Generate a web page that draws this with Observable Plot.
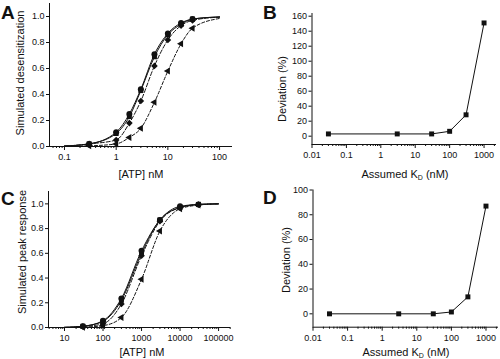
<!DOCTYPE html>
<html>
<head>
<meta charset="utf-8">
<script src="https://cdn.jsdelivr.net/npm/d3@7"></script>
<script src="https://cdn.jsdelivr.net/npm/@observablehq/plot@0.6"></script>
<style>
  html, body { margin: 0; padding: 0; background: #fff; }
  #root { position: relative; width: 500px; height: 359px; overflow: hidden; background: #fff;
          font-family: "Liberation Sans", Arial, Helvetica, sans-serif; color: #111; }
  .panel { position: absolute; }
  .lbl { position: absolute; white-space: nowrap; transform: translate(-50%, -50%); font-size: 11px; line-height: 1; }
  .rot { transform: translate(-50%, -50%) rotate(-90deg); }
  .letter { position: absolute; font-weight: bold; font-size: 19px; line-height: 1; }
  sub { font-size: 7px; vertical-align: -2px; }
</style>
</head>
<body>
<div id="root"></div>
<script>
// ---------- Panel A: simulated desensitization vs [ATP] (nM) ----------
const concA = [0.3, 1, 1.8, 3, 5.5, 10, 18, 30];
const aCircle   = [0.02, 0.11, 0.25, 0.44, 0.71, 0.87, 0.95, 0.98];
const aSquare   = [0.02, 0.10, 0.23, 0.43, 0.69, 0.86, 0.94, 0.98];
const aDiamond  = [0.02, 0.05, 0.18, 0.35, 0.62, 0.82, 0.93, 0.97];
const aTriangle = [0.005, 0.02, 0.07, 0.14, 0.34, 0.58, 0.79, 0.91];
// fitted-curve end values (at 0.1 nM and 100 nM)
const curveXA = [0.1, 100];
const aCircleEnds   = [0.004, 0.997];
const aSquareEnds   = [0.004, 0.996];
const aDiamondEnds  = [0.002, 0.995];
const aTriangleEnds = [0.001, 0.985];
const xTicksA = [0.1, 1, 10, 100];
const yTicksA = [0, 0.2, 0.4, 0.6, 0.8, 1.0];

// ---------- Panel C: simulated peak response vs [ATP] (nM) ----------
const concC = [30, 100, 300, 1000, 3000, 10000, 30000];
const cCircle   = [0.01, 0.055, 0.235, 0.62, 0.87, 0.98, 0.995];
const cSquare   = [0.01, 0.05, 0.22, 0.60, 0.87, 0.97, 0.995];
const cDiamond  = [0.008, 0.03, 0.19, 0.58, 0.86, 0.97, 0.995];
const cTriangle = [0.003, 0.015, 0.08, 0.39, 0.78, 0.96, 0.99];
const curveXC = [10, 100000];
const cCircleEnds   = [0.001, 1.0];
const cSquareEnds   = [0.001, 1.0];
const cDiamondEnds  = [0.001, 1.0];
const cTriangleEnds = [0.0005, 1.0];
const xTicksC = [10, 100, 1000, 10000, 100000];
const yTicksC = [0, 0.2, 0.4, 0.6, 0.8, 1.0];

// ---------- Panel B / D: deviation (%) vs assumed KD (nM) ----------
const kd = [0.03, 3, 30, 100, 300, 1000];
const devB = [3, 3, 3, 6.5, 28.5, 151];
const devD = [0, 0, 0, 1.5, 13.7, 87];
const xTicksKD = [0.01, 0.1, 1, 10, 100, 1000];
const yTicksB = [0, 20, 40, 60, 80, 100, 120, 140, 160];
const yTicksD = [0, 20, 40, 60, 80, 100];

// ---------- helpers ----------
const FONT = '"Liberation Sans", Arial, Helvetica, sans-serif';
function minorTicks(lo, hi) {
  const t = [];
  for (let e = Math.floor(Math.log10(lo)); e <= Math.ceil(Math.log10(hi)); e++)
    for (let k = 2; k <= 9; k++) { const v = k * Math.pow(10, e); if (v >= lo && v <= hi) t.push(v); }
  return t;
}
function rows(xs, ys) { return xs.map((x, i) => ({x, y: ys[i]})); }
function withEnds(xs, ys, ex, ey) {
  return [{x: ex[0], y: ey[0]}, ...rows(xs, ys), {x: ex[1], y: ey[1]}];
}
function axes(xDomain, yDomain, xTicks, yTicks, yFmt) {
  return [
    Plot.ruleX([xDomain[0]], {stroke: "#111", strokeWidth: 1}),
    Plot.ruleY([yDomain[0]], {stroke: "#111", strokeWidth: 1}),
    Plot.axisY({ticks: yTicks, tickSize: 3, tickPadding: 2, tickFormat: yFmt, label: null}),
    Plot.axisX({ticks: minorTicks(xDomain[0], xDomain[1]), tickSize: 2, tickFormat: () => "", label: null}),
    Plot.axisX({ticks: xTicks, tickSize: 4, tickPadding: 3, tickFormat: d => String(d), label: null})
  ];
}
function place(svg, left, top) {
  const wrap = document.createElement("div");
  wrap.className = "panel";
  wrap.style.left = left + "px"; wrap.style.top = top + "px";
  wrap.appendChild(svg);
  document.getElementById("root").appendChild(wrap);
}
function label(html, x, y, rotated) {
  const d = document.createElement("div");
  d.className = "lbl" + (rotated ? " rot" : "");
  d.style.left = x + "px"; d.style.top = y + "px";
  d.innerHTML = html;
  document.getElementById("root").appendChild(d);
}
function letter(t, x, y) {
  const d = document.createElement("div");
  d.className = "letter";
  d.style.left = x + "px"; d.style.top = y + "px";
  d.textContent = t;
  document.getElementById("root").appendChild(d);
}
const style = {fontFamily: FONT, fontSize: "9px", color: "#111", background: "transparent", overflow: "visible"};

function curvePanel(opts) {
  const {xDomain, yDomain, xTicks, yTicks, series, margins} = opts;
  const marks = [];
  for (const s of series) {
    marks.push(Plot.line(s.curve, {x: "x", y: "y", curve: "monotone-x", stroke: "#111",
      strokeWidth: 1, strokeDasharray: s.dash || null}));
  }
  for (const s of series) {
    marks.push(Plot.dot(s.points, {x: "x", y: "y", symbol: () => s.symbol, r: s.r, fill: "#111",
      stroke: "none", rotate: s.rotate || 0}));
  }
  return Plot.plot({
    width: 250, height: opts.height, ...margins,
    x: {type: "log", domain: xDomain},
    y: {domain: yDomain},
    style,
    marks: [...axes(xDomain, yDomain, xTicks, yTicks, d3.format(".1f")), ...marks]
  });
}

// Panel A
const xDomA = [0.0513, 178], yDomA = [0, 1.1];
place(curvePanel({
  height: 180, xDomain: xDomA, yDomain: yDomA, xTicks: xTicksA, yTicks: yTicksA,
  margins: {marginLeft: 49, marginRight: 18, marginTop: 3, marginBottom: 34},
  series: [
    {curve: withEnds(concA, aTriangle, curveXA, aTriangleEnds), points: rows(concA, aTriangle), symbol: "triangle", r: 2.6, rotate: -90, dash: "3,2"},
    {curve: withEnds(concA, aDiamond, curveXA, aDiamondEnds), points: rows(concA, aDiamond), symbol: "diamond2", r: 3, dash: "4,2"},
    {curve: withEnds(concA, aSquare, curveXA, aSquareEnds), points: rows(concA, aSquare), symbol: "square", r: 2.8},
    {curve: withEnds(concA, aCircle, curveXA, aCircleEnds), points: rows(concA, aCircle), symbol: "circle", r: 3}
  ]
}), 0, 0);

// Panel C
const xDomC = [3.84, 204000], yDomC = [0, 1.1];
place(curvePanel({
  height: 179, xDomain: xDomC, yDomain: yDomC, xTicks: xTicksC, yTicks: yTicksC,
  margins: {marginLeft: 48, marginRight: 20, marginTop: 11, marginBottom: 32},
  series: [
    {curve: withEnds(concC, cTriangle, curveXC, cTriangleEnds), points: rows(concC, cTriangle), symbol: "triangle", r: 2.6, rotate: -90, dash: "3,2"},
    {curve: withEnds(concC, cDiamond, curveXC, cDiamondEnds), points: rows(concC, cDiamond), symbol: "diamond2", r: 3, dash: "4,2"},
    {curve: withEnds(concC, cSquare, curveXC, cSquareEnds), points: rows(concC, cSquare), symbol: "square", r: 2.8},
    {curve: withEnds(concC, cCircle, curveXC, cCircleEnds), points: rows(concC, cCircle), symbol: "circle", r: 3}
  ]
}), 0, 180);

// Panels B and D
function devPanel(ys, yDomain, yTicks, height, margins) {
  const xDomain = [0.01, 2300];
  const data = rows(kd, ys);
  return Plot.plot({
    width: 250, height, ...margins,
    x: {type: "log", domain: xDomain},
    y: {domain: yDomain},
    style,
    marks: [
      ...axes(xDomain, yDomain, xTicksKD, yTicks, d3.format("d")),
      Plot.line(data, {x: "x", y: "y", stroke: "#111", strokeWidth: 1}),
      Plot.dot(data, {x: "x", y: "y", symbol: "square", r: 2.8, fill: "#111", stroke: "none"})
    ]
  });
}
place(devPanel(devB, [-11.1, 163.6], yTicksB, 180,
  {marginLeft: 61.5, marginRight: 4, marginTop: 13, marginBottom: 36}), 250, 0);
place(devPanel(devD, [-10.8, 100], yTicksD, 179,
  {marginLeft: 62.5, marginRight: 2, marginTop: 9.5, marginBottom: 32.3}), 250, 180);

// titles / letters
letter("A", 1, 3);
letter("B", 263, 3);
letter("C", 1, 189);
letter("D", 263, 188);
label("Simulated desensitization", 20, 73, true);
label("[ATP] nM", 141, 174);
label("Deviation (%)", 282, 89, true);
label("Assumed K<sub>D</sub> (nM)", 405, 175);
label("Simulated peak response", 22, 252, true);
label("[ATP] nM", 142, 352);
label("Deviation (%)", 286, 260, true);
label("Assumed K<sub>D</sub> (nM)", 406, 353);
</script>
</body>
</html>
